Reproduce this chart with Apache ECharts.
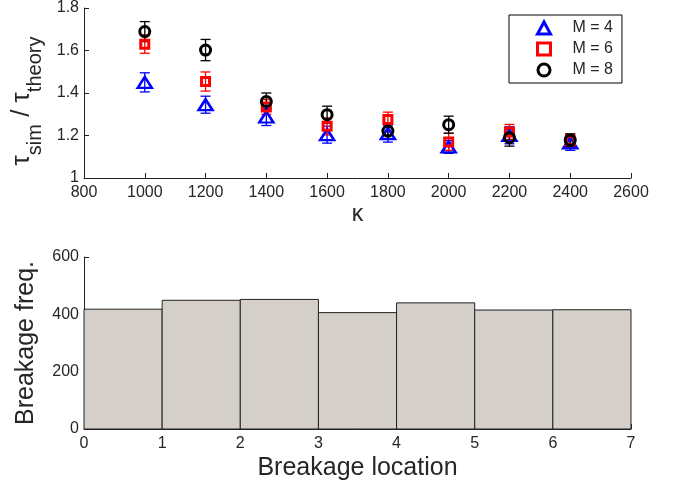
<!DOCTYPE html>
<html>
<head>
<meta charset="utf-8">
<script src="https://cdn.jsdelivr.net/npm/echarts@6/dist/echarts.min.js"></script>
<style>
    html, body {margin: 0; padding: 0; background: #fff;}
    #container {width: 676px; height: 487px;}
</style>
</head>
<body>
<div id="container"></div>
<script>
    var kappa = [1000, 1200, 1400, 1600, 1800, 2000, 2200, 2400];
    var m4Mean = [1.45, 1.345, 1.287, 1.204, 1.209, 1.146, 1.201, 1.165];
    var m4Err = [0.045, 0.04, 0.04, 0.04, 0.04, 0.03, 0.04, 0.035];
    var m6Mean = [1.63, 1.454, 1.334, 1.243, 1.275, 1.17, 1.217, 1.175];
    var m6Err = [0.043, 0.045, 0.035, 0.04, 0.035, 0.04, 0.035, 0.03];
    var m8Mean = [1.689, 1.602, 1.36, 1.298, 1.221, 1.251, 1.19, 1.178];
    var m8Err = [0.047, 0.05, 0.04, 0.04, 0.035, 0.04, 0.04, 0.03];

    var binStart = [0, 1, 2, 3, 4, 5, 6];
    var binCounts = [418, 449, 452, 406, 440, 415, 416];

    var font = 'Liberation Sans, Arial, Helvetica, sans-serif';
    var textColor = '#262626';

    function points(mean) {
        return kappa.map(function (k, i) { return [k, mean[i]]; });
    }
    function errors(mean, err) {
        return kappa.map(function (k, i) { return [k, mean[i] - err[i], mean[i] + err[i]]; });
    }
    function errorSeries(name, mean, err, color) {
        return {
            name: name,
            type: 'custom',
            xAxisIndex: 0,
            yAxisIndex: 0,
            data: errors(mean, err),
            encode: {x: 0, y: [1, 2]},
            renderItem: function (params, api) {
                var lo = api.coord([api.value(0), api.value(1)]);
                var hi = api.coord([api.value(0), api.value(2)]);
                var w = 5;
                var st = {stroke: color, lineWidth: 1.3};
                return {
                    type: 'group',
                    children: [
                        {type: 'line', shape: {x1: lo[0], y1: lo[1], x2: hi[0], y2: hi[1]}, style: st},
                        {type: 'line', shape: {x1: lo[0] - w, y1: lo[1], x2: lo[0] + w, y2: lo[1]}, style: st},
                        {type: 'line', shape: {x1: hi[0] - w, y1: hi[1], x2: hi[0] + w, y2: hi[1]}, style: st}
                    ]
                };
            }
        };
    }
    function markerSeries(name, mean, symbol, size, color, bw) {
        return {
            name: name,
            type: 'scatter',
            xAxisIndex: 0,
            yAxisIndex: 0,
            symbol: symbol,
            symbolSize: size,
            data: points(mean),
            itemStyle: {color: 'rgba(0,0,0,0)', borderColor: color, borderWidth: bw, opacity: 1}
        };
    }

    var axisCommon = {
        axisLine: {show: true, lineStyle: {color: '#222', width: 1}},
        axisTick: {show: true, inside: true, length: 5, lineStyle: {color: '#222'}},
        splitLine: {show: false},
        axisLabel: {fontFamily: font, fontSize: 16, color: textColor, formatter: function (v) { return String(v); }}
    };

    var dom = document.getElementById("container");
    var myChart = echarts.init(dom);

    var option = {
        animation: false,
        backgroundColor: '#fff',
        grid: [
            {left: 84, top: 7, width: 547, height: 171},
            {left: 84, top: 257, width: 547, height: 172}
        ],
        legend: {
            data: [
                {name: 'M = 4', itemStyle: {borderWidth: 3}},
                {name: 'M = 6', itemStyle: {borderWidth: 3}},
                {name: 'M = 8', itemStyle: {borderWidth: 3}}
            ],
            orient: 'vertical',
            left: 509,
            top: 15,
            padding: [5, 9, 5, 27],
            itemGap: 5,
            itemWidth: 13,
            itemHeight: 12,
            borderColor: '#000',
            borderWidth: 1,
            backgroundColor: '#fff',
            textStyle: {fontFamily: font, fontSize: 16, lineHeight: 16, color: textColor, padding: [0, 0, 0, 17]}
        },
        xAxis: [
            echarts.util.merge({
                type: 'value', gridIndex: 0, min: 800, max: 2600, interval: 200,
                name: 'κ', nameLocation: 'middle', nameGap: 25,
                nameTextStyle: {fontFamily: font, fontSize: 23, color: textColor},
                axisLabel: {margin: 7}
            }, axisCommon, false),
            echarts.util.merge({
                type: 'value', gridIndex: 1, min: 0, max: 7, interval: 1,
                name: 'Breakage location', nameLocation: 'middle', nameGap: 27,
                nameTextStyle: {fontFamily: font, fontSize: 25, color: textColor},
                axisLabel: {margin: 7}
            }, axisCommon, false)
        ],
        yAxis: [
            echarts.util.merge({
                type: 'value', gridIndex: 0, min: 1, max: 1.8, interval: 0.2,
                name: '{t|τ}{s|sim}{t| / τ}{s|theory}{g| }', nameLocation: 'middle', nameGap: 36, nameRotate: 90,
                nameTextStyle: {
                    fontFamily: font, color: textColor,
                    rich: {
                        t: {fontFamily: font, fontSize: 26, lineHeight: 24, color: textColor, verticalAlign: 'top'},
                        s: {fontFamily: font, fontSize: 20, lineHeight: 19, color: textColor, verticalAlign: 'top', padding: [17, 0, 0, 0]},
                        g: {fontSize: 10, width: 16, lineHeight: 10}
                    }
                },
                axisLabel: {margin: 5}
            }, axisCommon, false),
            echarts.util.merge({
                type: 'value', gridIndex: 1, min: 0, max: 600, interval: 200,
                name: 'Breakage freq.', nameLocation: 'middle', nameGap: 45, nameRotate: 90,
                nameTextStyle: {fontFamily: font, fontSize: 25, color: textColor},
                axisLabel: {margin: 5}
            }, axisCommon, false)
        ],
        series: [
            {
                name: 'hist',
                type: 'custom',
                xAxisIndex: 1,
                yAxisIndex: 1,
                data: binStart.map(function (s, i) { return [s, s + 1, binCounts[i]]; }),
                encode: {x: [0, 1], y: 2},
                renderItem: function (params, api) {
                    var p0 = api.coord([api.value(0), api.value(2)]);
                    var p1 = api.coord([api.value(1), 0]);
                    return {
                        type: 'rect',
                        shape: {x: p0[0], y: p0[1], width: p1[0] - p0[0], height: p1[1] - p0[1]},
                        style: {fill: '#d4d0c9', stroke: '#222', lineWidth: 1}
                    };
                }
            },
            errorSeries('err4', m4Mean, m4Err, '#0000ff'),
            markerSeries('M = 4', m4Mean, 'triangle', [14, 11], '#0000ff', 2.5),
            errorSeries('err6', m6Mean, m6Err, '#ff0000'),
            markerSeries('M = 6', m6Mean, 'rect', 8, '#ff0000', 3),
            errorSeries('err8', m8Mean, m8Err, '#000000'),
            markerSeries('M = 8', m8Mean, 'circle', 10, '#000000', 3)
        ]
    };

    if (option && typeof option === "object") {
        myChart.setOption(option, true);
    }
</script>
</body>
</html>
